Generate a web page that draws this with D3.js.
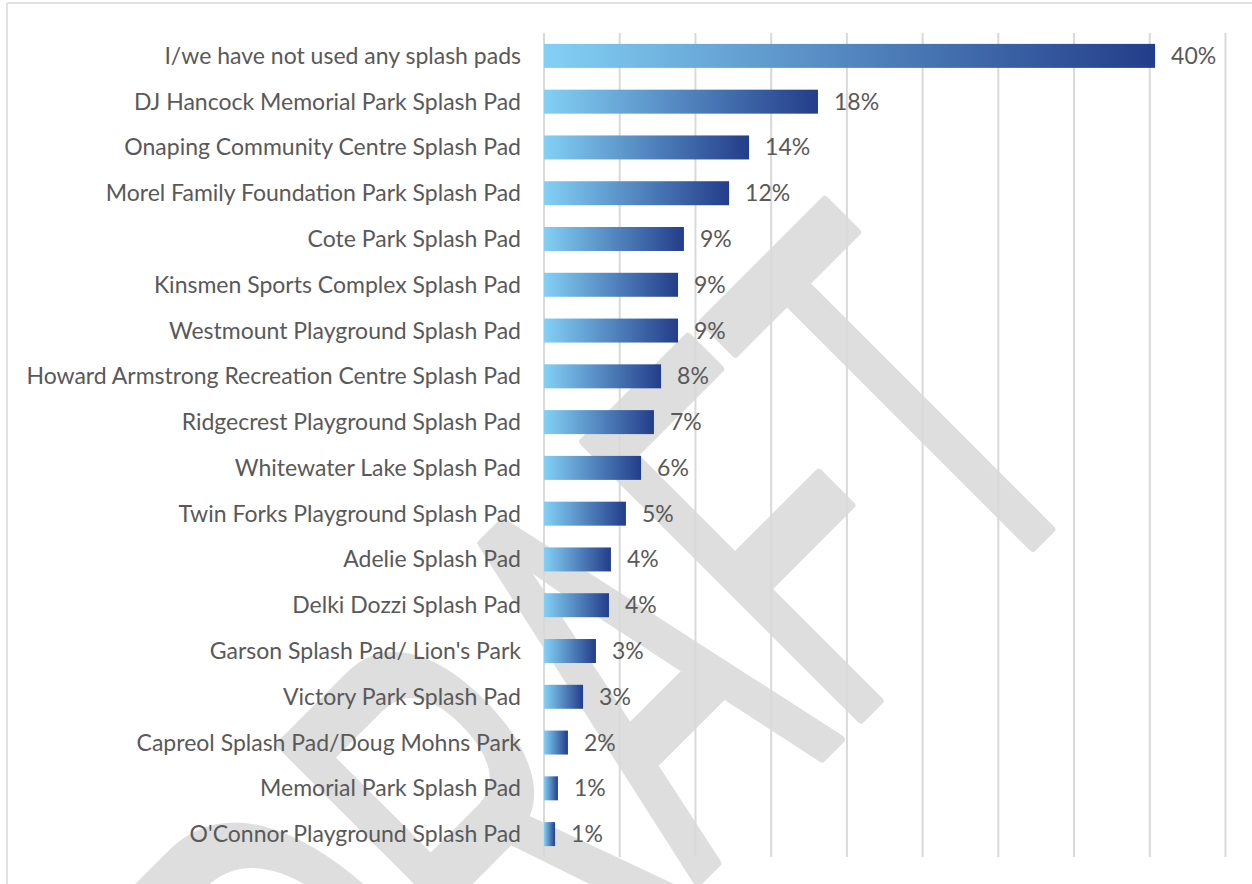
<!DOCTYPE html>
<html>
<head>
    <title>Splash pads used</title>
    <script src="https://cdn.jsdelivr.net/npm/d3@7"></script>
    <style>
        body { margin: 0; background: #fff; }
        svg { display: block; }
        .cat { font-family: Lato, sans-serif; font-size: 23px; fill: #595959; }
        .val { font-family: Lato, sans-serif; font-size: 23px; fill: #595959; }
        .grid line { stroke: #d9d9d9; stroke-width: 2px; }
        .mark { font-family: "Liberation Sans", Arial, sans-serif; fill: #dedede; stroke: #dedede; stroke-width: 10px; stroke-linejoin: round; }
    </style>
</head>
<body>
<svg width="1252" height="884"></svg>
<script>
    const pads = [
        "I/we have not used any splash pads",
        "DJ Hancock Memorial Park Splash Pad",
        "Onaping Community Centre Splash Pad",
        "Morel Family Foundation Park Splash Pad",
        "Cote Park Splash Pad",
        "Kinsmen Sports Complex Splash Pad",
        "Westmount Playground Splash Pad",
        "Howard Armstrong Recreation Centre Splash Pad",
        "Ridgecrest Playground Splash Pad",
        "Whitewater Lake Splash Pad",
        "Twin Forks Playground Splash Pad",
        "Adelie Splash Pad",
        "Delki Dozzi Splash Pad",
        "Garson Splash Pad/ Lion's Park",
        "Victory Park Splash Pad",
        "Capreol Splash Pad/Doug Mohns Park",
        "Memorial Park Splash Pad",
        "O'Connor Playground Splash Pad"
    ];
    const shares = [40.35, 18.09, 13.54, 12.22, 9.24, 8.85, 8.85, 7.73, 7.26, 6.41, 5.41, 4.42, 4.29, 3.43, 2.58, 1.58, 0.92, 0.73];
    const gridTicks = [0, 5, 10, 15, 20, 25, 30, 35, 40, 45];

    const svg = d3.select("svg");

    // frame
    svg.append("line").attr("x1", 7).attr("y1", 3).attr("x2", 1252).attr("y2", 3)
        .attr("stroke", "#d9d9d9").attr("stroke-width", 1.5);
    svg.append("line").attr("x1", 7).attr("y1", 3).attr("x2", 7).attr("y2", 884)
        .attr("stroke", "#d9d9d9").attr("stroke-width", 1.5);

    // watermark, behind everything
    svg.append("text")
        .attr("class", "mark")
        .attr("transform", "translate(381,1198) rotate(-45) scale(0.543,1)")
        .attr("font-size", 568)
        .text("DRAFT");

    const x = d3.scaleLinear().domain([0, 45]).range([544, 1225.5]);
    const y = d3.scaleBand().domain(pads).range([33, 857])
        .paddingInner(0.476).paddingOuter(0.238);

    const grid = svg.append("g").attr("class", "grid");
    grid.selectAll("line").data(gridTicks).enter().append("line")
        .attr("x1", d => x(d)).attr("x2", d => x(d))
        .attr("y1", 33).attr("y2", 857);

    const grad = svg.append("defs").append("linearGradient")
        .attr("id", "barFill")
        .attr("x1", "0%").attr("x2", "100%").attr("y1", "0%").attr("y2", "0%");
    grad.append("stop").attr("offset", "0%").attr("stop-color", "#83d0f5");
    grad.append("stop").attr("offset", "100%").attr("stop-color", "#233d8a");

    svg.selectAll(".bar").data(shares).enter().append("rect")
        .attr("class", "bar")
        .attr("x", x(0))
        .attr("y", (d, i) => y(pads[i]))
        .attr("width", d => x(d) - x(0))
        .attr("height", y.bandwidth())
        .attr("fill", "url(#barFill)");

    svg.selectAll(".cat").data(pads).enter().append("text")
        .attr("class", "cat")
        .attr("x", x(0) - 23)
        .attr("y", d => y(d) + y.bandwidth() / 2)
        .attr("dy", "0.35em")
        .attr("text-anchor", "end")
        .text(d => d);

    svg.selectAll(".val").data(shares).enter().append("text")
        .attr("class", "val")
        .attr("x", d => x(d) + 16)
        .attr("y", (d, i) => y(pads[i]) + y.bandwidth() / 2)
        .attr("dy", "0.35em")
        .text(d => Math.round(d) + "%");
</script>
</body>
</html>
